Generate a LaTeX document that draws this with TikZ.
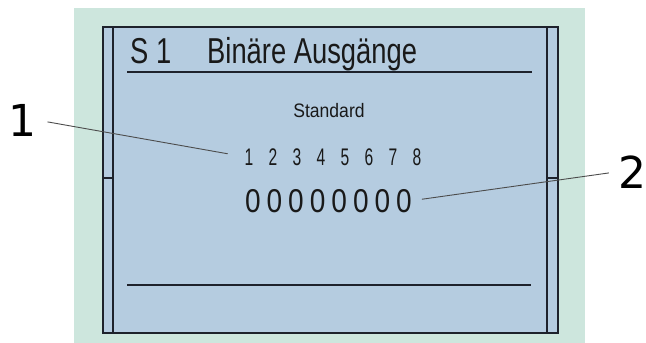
\documentclass[tikz,border=0pt]{standalone}
\usepackage{fontspec}
\usepackage{tikz}
\newfontfamily\headfont[FakeStretch=0.76]{Liberation Sans}
\newfontfamily\modefont[FakeStretch=0.9]{Liberation Sans}
\newfontfamily\bitfont[FakeStretch=0.65]{Liberation Sans}
\newfontfamily\zerofont[FakeStretch=0.85]{Liberation Sans}
\newfontfamily\calloutfont{DejaVu Sans}
\definecolor{mintbg}{RGB}{205,230,221}
\definecolor{panelblue}{RGB}{181,204,224}
\definecolor{inkline}{RGB}{30,34,44}

\begin{document}
\begin{tikzpicture}[
			x=1pt,y=-1pt,
			frame/.style={draw=inkline,line width=1.3pt},
			rule/.style={draw=inkline,line width=1.6pt},
			tick/.style={draw=inkline,line width=2.4pt},
			leader/.style={draw=black!70,line width=0.9pt},
			lcd/.style={inner sep=0pt,anchor=base,text=black!90},
			callout/.style={inner sep=0pt,anchor=base,font={\calloutfont\fontsize{44}{50}\selectfont}}]
			\useasboundingbox (0,0) rectangle (646,343);
			\clip (0,0) rectangle (646,343);
			\fill[mintbg] (74,8) rectangle (585,343);
			\filldraw[fill=panelblue,frame] (103,27) rectangle (558,333);
			\foreach \x in {113,547} \draw[frame] (\x,27) -- (\x,333);
			\foreach \x in {103,547} \draw[tick] (\x,178) -- (\x+11,178);
			\draw[rule] (127,72) -- (532,72);
			\draw[rule] (127,285) -- (531,285);
			\node[lcd,anchor=base west,font={\headfont\fontsize{36}{40}\selectfont}] (slot) at (130,63) {S 1};
			\node[lcd,anchor=base west,font={\headfont\fontsize{36}{40}\selectfont}] (head) at (207,63) {Binäre Ausgänge};
			\node[lcd,font={\modefont\fontsize{19.5}{22}\selectfont}] (mode) at (329,117) {Standard};
			\foreach \i in {1,...,8} {
				\node[lcd,font={\bitfont\fontsize{24}{26}\selectfont}] (bit\i) at ({249+24*(\i-1)},165) {\i};
				\node[lcd,font={\zerofont\fontsize{33}{36}\selectfont}] (val\i) at ({252.8+21.6*(\i-1)},212) {0};
			}
			\node[callout] (lab1) at (22.5,136) {1};
			\node[callout] (lab2) at (632,188) {2};
			\draw[leader,shorten <=11pt,shorten >=17pt] (lab1.east) -- (bit1.west);
			\draw[leader,shorten <=10pt,shorten >=9pt] (val8.east) -- (lab2.west);
		\end{tikzpicture}
\end{document}
